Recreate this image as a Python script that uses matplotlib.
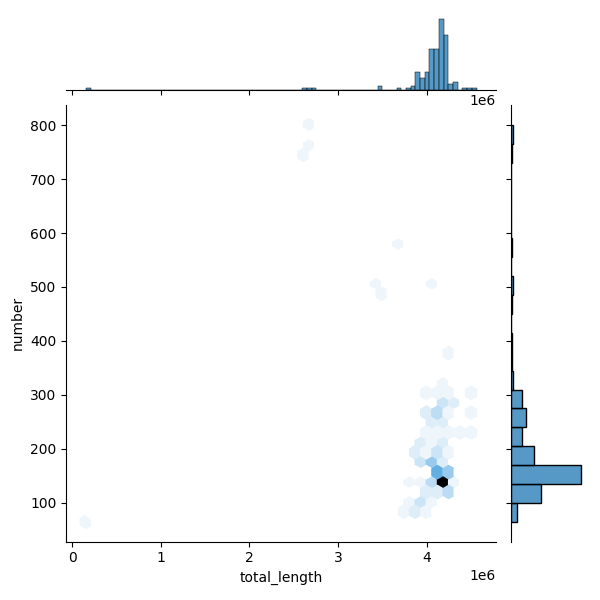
import colorsys

import numpy as np
import matplotlib
matplotlib.use("Agg")
import matplotlib.pyplot as plt
import matplotlib.colors as mcolors
import seaborn as sns

# hexbin cells: centre x, centre y, number of records
hex_x = [0.155e6, 2.673e6, 2.673e6, 2.610e6, 3.680e6, 3.428e6, 3.491e6, 4.056e6,
         4.245e6,
         4.182e6,
         3.993e6, 4.119e6, 4.245e6, 4.497e6,
         4.182e6, 4.308e6,
         3.993e6, 4.119e6, 4.245e6, 4.497e6,
         4.056e6, 4.182e6,
         3.993e6, 4.119e6, 4.245e6, 4.371e6, 4.497e6,
         3.930e6, 4.056e6, 4.182e6,
         3.867e6, 3.993e6, 4.119e6, 4.245e6,
         3.930e6, 4.056e6, 4.182e6,
         4.119e6, 4.245e6,
         3.804e6, 3.930e6, 4.056e6, 4.182e6, 4.308e6,
         3.993e6, 4.119e6, 4.245e6,
         3.804e6, 3.930e6, 4.056e6,
         3.741e6, 3.867e6, 3.993e6]
hex_y = [65, 800, 763.25, 744.9, 579.5, 506, 487.6, 506,
         377.4,
         322.25,
         303.9, 303.9, 303.9, 303.9,
         285.5, 285.5,
         267.1, 267.1, 267.1, 267.1,
         248.75, 248.75,
         230.4, 230.4, 230.4, 230.4, 230.4,
         212, 212, 212,
         193.6, 193.6, 193.6, 193.6,
         175.25, 175.25, 175.25,
         156.9, 156.9,
         138.5, 138.5, 138.5, 138.5, 138.5,
         120.1, 120.1, 120.1,
         101.75, 101.75, 101.75,
         83.4, 83.4, 83.4]
hex_n = [1, 1, 1, 1, 1, 1, 1, 1,
         1,
         1,
         1, 1, 1, 1,
         3, 2,
         2, 4, 1, 1,
         2, 2,
         1, 1, 1, 1, 1,
         2, 1, 2,
         2, 1, 3, 1,
         3, 6, 2,
         9, 6,
         1, 1, 4, 25, 1,
         2, 2, 4,
         1, 3, 1,
         1, 2, 1]

# marginal histograms (counts per bin)
x_range = (0.155e6, 4.56e6)
len_counts = [1, 0, 0, 0, 0, 0, 0, 0, 0, 0,
              0, 0, 0, 0, 0, 0, 0, 0, 0, 0,
              0, 0, 0, 0, 0, 0, 0, 0, 0, 0,
              0, 0, 0, 0, 0, 0, 0, 0, 0, 0,
              0, 0, 0, 0, 0, 0, 1, 1, 1, 0,
              0, 0, 0, 0, 0, 0, 0, 0, 0, 0,
              0, 0, 2, 0, 0, 0, 1, 0, 1, 2,
              9, 6, 9, 20, 20, 35, 27, 3, 4, 0,
              1, 1, 1]
y_range = (65, 800)
num_counts = [5, 24, 57, 19, 9, 12, 9, 2, 1, 1, 0,
              1, 2, 0, 1, 0, 0, 0, 0, 1, 2]

# seaborn-style hex colormap: white -> C0 -> black
base = mcolors.to_rgb("C0")
h, l, s = colorsys.rgb_to_hls(*base)
cmap_colors = [colorsys.hls_to_rgb(h, lv, s) for lv in np.linspace(1, 0, 12)]
cmap = sns.blend_palette(cmap_colors, as_cmap=True)

g = sns.JointGrid(height=6, ratio=5, space=.2)
g.set_axis_labels("total_length", "number")
# same layout pass seaborn does when the grid is built with data
g.figure.tight_layout()
g.figure.subplots_adjust(hspace=.2, wspace=.2)

px = np.repeat(hex_x, hex_n)
py = np.repeat(hex_y, hex_n)
g.ax_joint.hexbin(px, py, gridsize=35, cmap=cmap,
                  extent=(x_range[0], x_range[1], y_range[0], y_range[1]))

x_edges = np.linspace(x_range[0], x_range[1], len(len_counts) + 1)
y_edges = np.linspace(y_range[0], y_range[1], len(num_counts) + 1)
x_mid = (x_edges[:-1] + x_edges[1:]) / 2
y_mid = (y_edges[:-1] + y_edges[1:]) / 2

bar_face = mcolors.to_rgba("C0", 0.75)
g.ax_marg_x.hist(x_mid, bins=x_edges, weights=len_counts,
                 facecolor=bar_face, edgecolor="black", linewidth=0.34)
g.ax_marg_y.hist(y_mid, bins=y_edges, weights=num_counts,
                 orientation="horizontal",
                 facecolor=bar_face, edgecolor="black", linewidth=1.0)

g.figure.savefig("out.png", dpi=100)
